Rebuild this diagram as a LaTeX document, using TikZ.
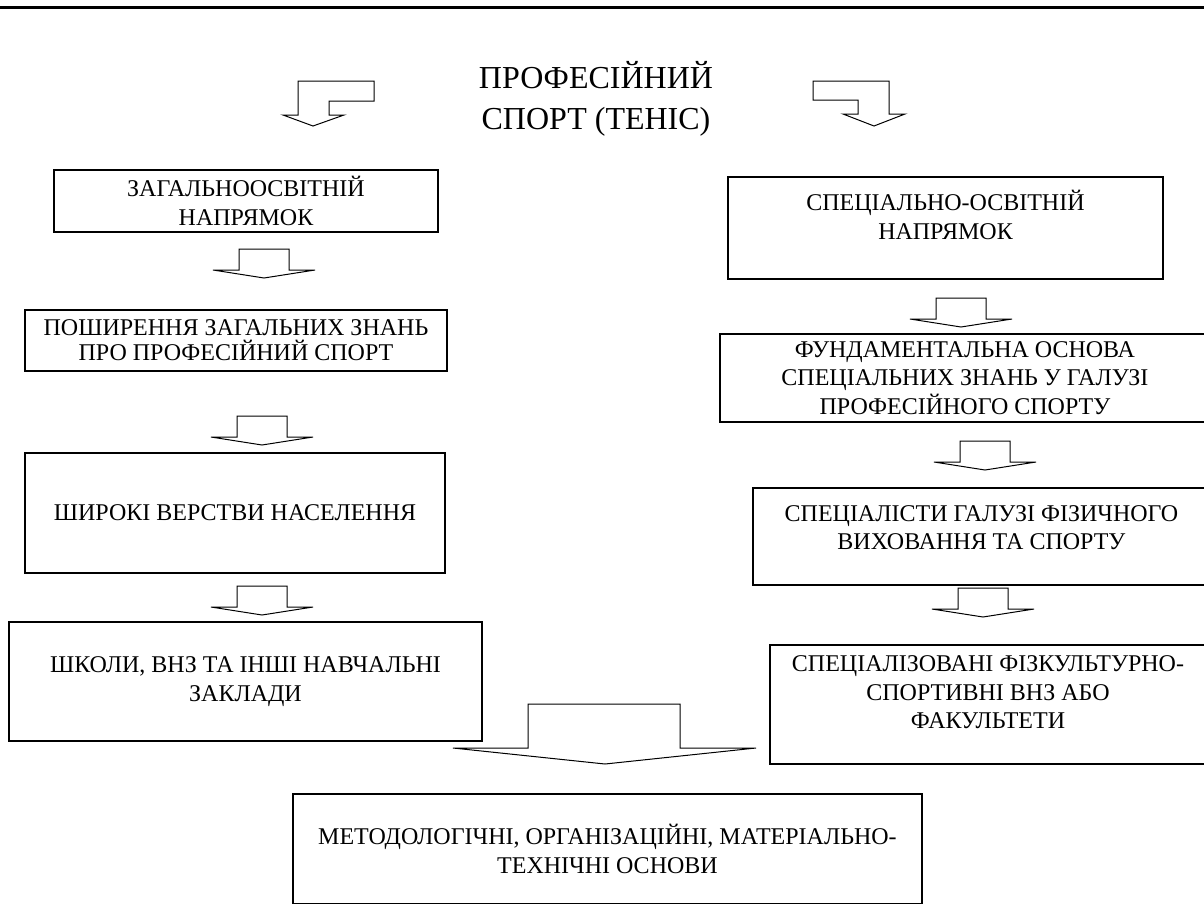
\documentclass[tikz,border=0pt]{standalone}
\usepackage{fontspec}
\setmainfont{Liberation Serif}
\usepackage{tikz}

\tikzset{
  blk/.style={draw, line width=1.3pt, align=center, inner sep=0pt,
    font=\fontsize{24}{28.5}\selectfont},
  downarr/.pic={\draw[line width=1pt] (-25,0) -- (25,0) -- (25,21) -- (51,21) -- (0,29) -- (-51,21) -- (-25,21) -- cycle;}
}

\begin{document}
\begin{tikzpicture}[x=1pt,y=-1pt]
		\useasboundingbox (0,0) rectangle (1204,903);
		\draw[line width=3pt] (0,7) -- (1204,7);
		
		\node[align=center, font=\fontsize{32}{41}\selectfont] (title) at (596,99) {ПРОФЕСІЙНИЙ\\СПОРТ (ТЕНІС)};
		
		% bent arrows under the title
		\draw[line width=1pt] (298,81) -- (374,81) -- (374,101) -- (329,101) -- (329,115) -- (344,115) -- (313,126) -- (283,115) -- (298,115) -- cycle;
		\draw[line width=1pt] (813,81) -- (889,81) -- (889,114) -- (905,114) -- (874,126) -- (843,114) -- (858,114) -- (858,100) -- (813,100) -- cycle;
		
		% left column
		\node[blk, minimum width=384, minimum height=62] (gen) at (246,201) {ЗАГАЛЬНООСВІТНІЙ\\НАПРЯМОК};
		\node[blk, minimum width=422, minimum height=61, font=\fontsize{24}{25}\selectfont] (know) at (236,340.5) {ПОШИРЕННЯ ЗАГАЛЬНИХ ЗНАНЬ\\ПРО ПРОФЕСІЙНИЙ СПОРТ};
		\node[blk, minimum width=420, minimum height=120] (mass) at (235,513) {ШИРОКІ ВЕРСТВИ НАСЕЛЕННЯ};
		\node[blk, minimum width=473, minimum height=119] (school) at (245.5,681.5) {ШКОЛИ, ВНЗ ТА ІНШІ НАВЧАЛЬНІ\\ЗАКЛАДИ};
		
		% right column
		\node[blk, minimum width=435, minimum height=102] (spec) at (945.5,228) {СПЕЦІАЛЬНО-ОСВІТНІЙ\\НАПРЯМОК\\[-2.5pt]};
		\node[blk, minimum width=490, minimum height=88] (fund) at (965,378) {ФУНДАМЕНТАЛЬНА ОСНОВА\\СПЕЦІАЛЬНИХ ЗНАНЬ У ГАЛУЗІ\\ПРОФЕСІЙНОГО СПОРТУ};
		\node[blk, minimum width=457, minimum height=97] (expert) at (981.5,536.5) {СПЕЦІАЛІСТИ ГАЛУЗІ ФІЗИЧНОГО\\ВИХОВАННЯ ТА СПОРТУ\\[-10.5pt]};
		\node[blk, minimum width=436, minimum height=119] (faculty) at (988,704.5) {СПЕЦІАЛІЗОВАНІ ФІЗКУЛЬТУРНО-\\СПОРТИВНІ ВНЗ АБО\\ФАКУЛЬТЕТИ\\[-4.5pt]};
		
		\node[blk, minimum width=629, minimum height=110] (base) at (607.5,849) {МЕТОДОЛОГІЧНІ, ОРГАНІЗАЦІЙНІ, МАТЕРІАЛЬНО-\\ТЕХНІЧНІ ОСНОВИ};
		
		% block arrows
		\foreach \x/\y in {264/249, 262/416, 262/586, 961/298, 985/441, 983/588}{
			\pic at (\x,\y) {downarr};
		}
		\draw[line width=1pt] (528,704) -- (680,704) -- (680,748) -- (756,748) -- (605,764) -- (453,748) -- (528,748) -- cycle;
	\end{tikzpicture}
\end{document}
